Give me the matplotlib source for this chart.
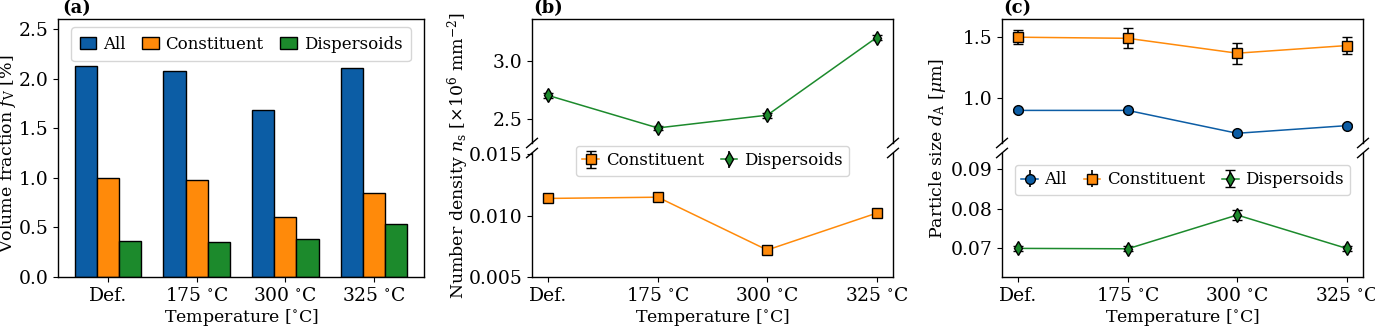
import matplotlib
matplotlib.use("Agg")
import matplotlib.pyplot as plt
import numpy as np

plt.rcParams.update({
    "font.family": "DejaVu Serif",
    "mathtext.fontset": "dejavuserif",
    "font.size": 12.5,
    "xtick.labelsize": 13.5,
    "ytick.labelsize": 13.5,
    "legend.fontsize": 12,
    "axes.linewidth": 1.0,
})

C_ALL = "#0C5DA5"
C_CON = "#FF8A0A"
C_DIS = "#1C8A2C"

temps = ["Def.", r"175 $^{\circ}$C", r"300 $^{\circ}$C", r"325 $^{\circ}$C"]

# (a) volume fraction [%]
vf_all = [2.13, 2.08, 1.68, 2.11]
vf_con = [1.00, 0.98, 0.60, 0.85]
vf_dis = [0.36, 0.35, 0.38, 0.53]

# (b) number density [x1e6 mm^-2]
nd_con = [0.0114, 0.0115, 0.0072, 0.0102]
nd_con_err = [0.00005, 0.00005, 0.00005, 0.00005]
nd_dis = [2.70, 2.42, 2.53, 3.20]
nd_dis_err = [0.02, 0.02, 0.02, 0.02]

# (c) particle size [um]
ps_all = [0.90, 0.90, 0.714, 0.776]
ps_all_err = [0.01, 0.01, 0.01, 0.01]
ps_con = [1.495, 1.486, 1.365, 1.427]
ps_con_err = [0.058, 0.080, 0.086, 0.070]
ps_dis = [0.0700, 0.0699, 0.0784, 0.0700]
ps_dis_err = [0.0006, 0.0006, 0.0012, 0.0006]

W, H = 1375, 327
fig = plt.figure(figsize=(W / 100, H / 100), dpi=100)


def box(x0, x1, y_top, y_bot):
    return [x0 / W, 1 - y_bot / H, (x1 - x0) / W, (y_bot - y_top) / H]


def break_marks(ax_top, ax_bot):
    d = 0.015
    kw = dict(color="k", clip_on=False, lw=1.0)
    for x in (0, 1):
        ax_top.plot((x - d, x + d), (-2.5 * d, 2.5 * d), transform=ax_top.transAxes, **kw)
        ax_bot.plot((x - d, x + d), (1 - 2.5 * d, 1 + 2.5 * d), transform=ax_bot.transAxes, **kw)


def split_axes(x0, x1):
    top = fig.add_axes(box(x0, x1, 19, 143))
    bot = fig.add_axes(box(x0, x1, 153, 277), sharex=top)
    top.spines["bottom"].set_visible(False)
    bot.spines["top"].set_visible(False)
    top.tick_params(bottom=False, labelbottom=False)
    break_marks(top, bot)
    return top, bot


eb = dict(ecolor="k", capsize=3.5, elinewidth=1.2, capthick=1.2,
          markeredgecolor="k", markeredgewidth=1.0, lw=1.1, ms=7)
leg = dict(handlelength=1.0, handletextpad=0.4, columnspacing=1.0)

# ---- (a) bar chart
ax = fig.add_axes(box(58, 424, 19, 277))
x = np.arange(len(temps))
w = 0.25
ax.bar(x - w, vf_all, w, color=C_ALL, edgecolor="k", lw=1.0, label="All")
ax.bar(x, vf_con, w, color=C_CON, edgecolor="k", lw=1.0, label="Constituent")
ax.bar(x + w, vf_dis, w, color=C_DIS, edgecolor="k", lw=1.0, label="Dispersoids")
ax.set_xticks(x)
ax.set_xticklabels(temps)
ax.set_ylim(0, 2.6)
ax.set_yticks([0, 0.5, 1.0, 1.5, 2.0, 2.5])
ax.set_xlabel(r"Temperature [$^{\circ}$C]", labelpad=2)
ax.legend(loc="upper center", ncol=3, borderaxespad=0.5, borderpad=0.5, **leg)
fig.text(8 / W, 0.53, r"Volume fraction $f_\mathrm{V}$ [%]", rotation=90,
         ha="center", va="center")
fig.text(62 / W, 1 - 8 / H, "(a)", fontweight="bold", ha="left", va="center", fontsize=13)

# ---- (b) number density, broken axis
top, bot = split_axes(532, 893)
top.errorbar(x, nd_dis, yerr=nd_dis_err, marker="d", color=C_DIS, **eb)
bot.errorbar(x, nd_con, yerr=nd_con_err, marker="s", color=C_CON, **eb,
             label="Constituent")
bot.errorbar([], [], yerr=[], marker="d", color=C_DIS, **eb, label="Dispersoids")
top.set_ylim(2.29, 3.36)
top.set_yticks([2.5, 3.0])
bot.set_ylim(0.005, 0.0151)
bot.set_yticks([0.005, 0.010, 0.015])
bot.set_xticks(x)
bot.set_xticklabels(temps)
bot.set_xlabel(r"Temperature [$^{\circ}$C]", labelpad=2)
bot.legend(loc="upper center", ncol=2, bbox_to_anchor=(0.5, 1.06),
           borderaxespad=0.0, **leg)
fig.text(458 / W, 0.525, r"Number density $n_\mathrm{s}$ [$\times 10^6$ mm$^{-2}$]",
         rotation=90, ha="center", va="center")
fig.text(533 / W, 1 - 8 / H, "(b)", fontweight="bold", ha="left", va="center", fontsize=13)

# ---- (c) particle size, broken axis
top, bot = split_axes(1002, 1363)
top.errorbar(x, ps_con, yerr=ps_con_err, marker="s", color=C_CON, **eb)
top.errorbar(x, ps_all, yerr=ps_all_err, marker="o", color=C_ALL, **eb)
bot.errorbar([], [], yerr=[], marker="o", color=C_ALL, **eb, label="All")
bot.errorbar([], [], yerr=[], marker="s", color=C_CON, **eb, label="Constituent")
bot.errorbar(x, ps_dis, yerr=ps_dis_err, marker="d", color=C_DIS, **eb,
             label="Dispersoids")
top.set_ylim(0.635, 1.643)
top.set_yticks([1.0, 1.5])
bot.set_ylim(0.0628, 0.094)
bot.set_yticks([0.07, 0.08, 0.09])
bot.set_xticks(x)
bot.set_xticklabels(temps)
bot.set_xlabel(r"Temperature [$^{\circ}$C]", labelpad=2)
bot.legend(loc="upper center", ncol=3, borderaxespad=0.7, **leg)
fig.text(938 / W, 0.545, r"Particle size $d_\mathrm{A}$ [$\mu$m]",
         rotation=90, ha="center", va="center")
fig.text(1003 / W, 1 - 8 / H, "(c)", fontweight="bold", ha="left", va="center", fontsize=13)

fig.savefig("out.png", dpi=100)
